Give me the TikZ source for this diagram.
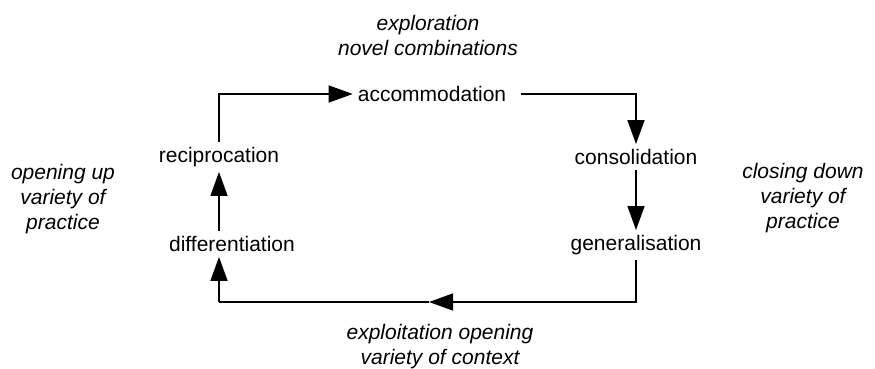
\documentclass[tikz,border=0pt]{standalone}
\usepackage{fontspec}
\setmainfont{Liberation Sans}
\usetikzlibrary{arrows.meta}

\begin{document}
\begin{tikzpicture}[x=1pt, y=-1pt,
    every node/.style={font=\fontsize{21}{25}\selectfont, inner sep=5pt},
    flow/.style={line width=1.5pt, -{Triangle[length=24pt, width=17pt]}},
    plain/.style={line width=1.5pt},
    note/.style={align=center, font=\fontsize{21}{25}\selectfont\itshape}]
                    \useasboundingbox (0,0) rectangle (875,369);

                    \node (acc) at (432,94) {accommodation};
                    \node (con) at (636,157) {consolidation};
                    \node (gen) at (636,245) {generalisation};
                    \node (dif) at (232,244) {differentiation};
                    \node (rec) at (219,157) {reciprocation};

                    \coordinate (botmid) at (429,302);

                    \node[note] (explo) at (428,35) {exploration\\novel combinations};
                    \node[note] (openup) at (63,199) {opening up\\variety of\\practice};
                    \node[note] (closedown) at (803,198) {closing down\\variety of\\practice};
                    \node[note] (exploit) at (440,347) {exploitation opening\\variety of context};

                    \draw[flow] (rec) |- (acc);
                    \draw[flow, shorten <=10pt] (acc) -| (con);
                    \draw[flow] (con) -- (gen);
                    \draw[flow] (gen) |- (botmid);
                    \draw[plain] (botmid) -- (botmid -| rec);
                    \draw[flow] (botmid -| rec) -- (rec |- dif.south);
                    \draw[flow] (rec |- dif.north) -- (rec);
                \end{tikzpicture}
\end{document}
